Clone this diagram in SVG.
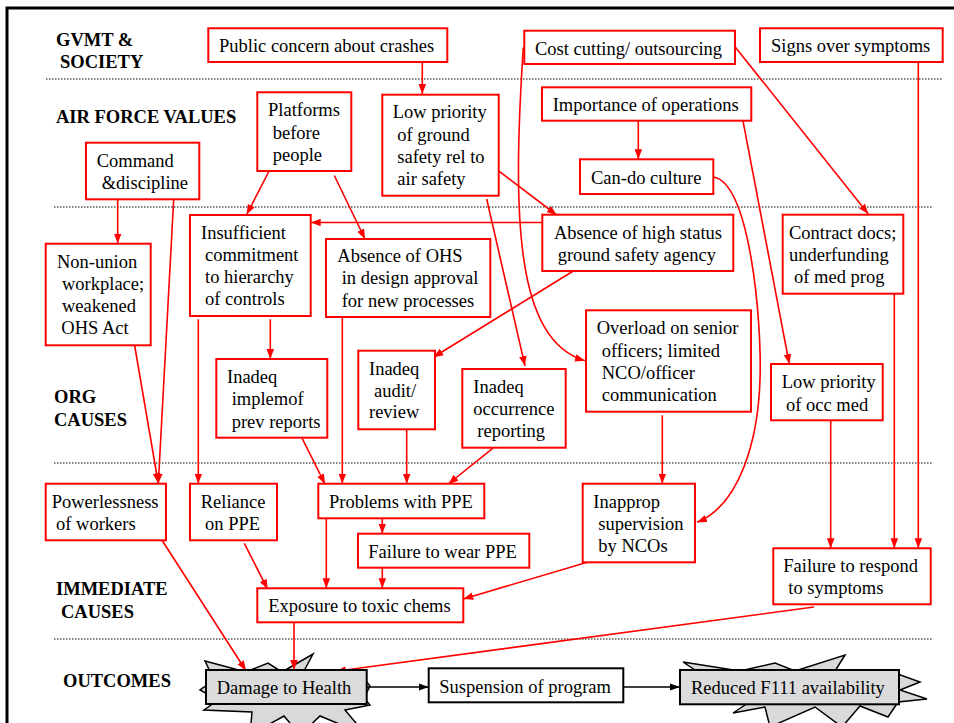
<svg xmlns="http://www.w3.org/2000/svg" width="954" height="723" viewBox="0 0 954 723">
<defs>
<style>
.n{fill:#fff;stroke:#ff0000;stroke-width:2}
.g{fill:#dcdcdc;stroke:#000;stroke-width:2}
.w{fill:#fff;stroke:#000;stroke-width:2}
.star{fill:#d9d9d9;stroke:#000;stroke-width:1.5}
text{font-family:"Liberation Serif","Times New Roman",serif;font-size:18.5px;fill:#000}
.lab{font-weight:bold;font-size:18.5px}
.c{fill:none;stroke:#ff0000;stroke-width:1.6}
.k{fill:none;stroke:#000;stroke-width:1.6}
.sep{stroke:#000;stroke-width:1;stroke-dasharray:1.5 1.5}
</style>
<marker id="ar" viewBox="0 0 10 10" refX="10" refY="5" markerWidth="10" markerHeight="10" markerUnits="userSpaceOnUse" orient="auto"><path d="M0,1.2 L10,5 L0,8.8 z" fill="#ff0000"/></marker>
<marker id="ak" viewBox="0 0 10 10" refX="10" refY="5" markerWidth="10" markerHeight="10" markerUnits="userSpaceOnUse" orient="auto"><path d="M0,1.5 L10,5 L0,8.5 z" fill="#000"/></marker>
</defs>
<rect width="954" height="723" fill="#fff"/>
<path d="M7,723 V8 H954" fill="none" stroke="#000" stroke-width="3"/>

<g id="separators">
<line class="sep" x1="46" y1="79" x2="942" y2="79"/>
<line class="sep" x1="54" y1="207" x2="933" y2="207"/>
<line class="sep" x1="54" y1="463" x2="933" y2="463"/>
<line class="sep" x1="54" y1="639" x2="933" y2="639"/>
</g>

<g id="labels">
<text class="lab" x="56" y="46">GVMT &amp;</text>
<text class="lab" x="60" y="68">SOCIETY</text>
<text class="lab" x="56" y="123">AIR FORCE VALUES</text>
<text class="lab" x="54" y="403">ORG</text>
<text class="lab" x="54" y="426">CAUSES</text>
<text class="lab" x="56" y="595">IMMEDIATE</text>
<text class="lab" x="61" y="618">CAUSES</text>
<text class="lab" x="63" y="687">OUTCOMES</text>
</g>

<g id="starbursts">
<polygon class="star" points="205,661 246,672 268,663 282,672 313,654 304,671 362,676 370,686 364,698 370,705 345,710 366,735 320,716 300,735 284,716 250,735 252,712 204,710 218,700 200,690 214,680"/>
<polygon class="star" points="683,662 740,671 775,663 795,671 845,655 835,671 895,673 920,682 900,690 927,699 898,702 888,717 860,706 842,727 815,707 770,727 765,707 733,713 748,703 690,700 700,690 685,682 698,672"/>
</g>

<g id="connectors">
<line class="c" x1="422.3" y1="62" x2="422.3" y2="94" marker-end="url(#ar)"/>
<line class="c" x1="270.7" y1="168" x2="246.7" y2="214.5" marker-end="url(#ar)"/>
<line class="c" x1="334.3" y1="175.5" x2="365" y2="239" marker-end="url(#ar)"/>
<line class="c" x1="117.7" y1="199.3" x2="117.7" y2="243.5" marker-end="url(#ar)"/>
<line class="c" x1="173.7" y1="199.3" x2="158.3" y2="483.5" marker-end="url(#ar)"/>
<line class="c" x1="134.3" y1="343.5" x2="158.3" y2="483.5" marker-end="url(#ar)"/>
<line class="c" x1="494.3" y1="167.7" x2="556.7" y2="215" marker-end="url(#ar)"/>
<line class="c" x1="542.3" y1="222.5" x2="310.7" y2="222.5" marker-end="url(#ar)"/>
<line class="c" x1="486.7" y1="199" x2="525" y2="366" marker-end="url(#ar)"/>
<path class="c" d="M523.3,47.5 C512,220 516,340 585,360.7" marker-end="url(#ar)"/>
<line class="c" x1="638.3" y1="120.7" x2="638.3" y2="159.3" marker-end="url(#ar)"/>
<line class="c" x1="742.7" y1="119.3" x2="789.3" y2="364" marker-end="url(#ar)"/>
<path class="c" d="M714,177 C750,185 762,320 760,380 C758,440 740,505 697,522.3" marker-end="url(#ar)"/>
<line class="c" x1="735" y1="46.7" x2="868.3" y2="214" marker-end="url(#ar)"/>
<line class="c" x1="918.3" y1="62" x2="918.3" y2="548.3" marker-end="url(#ar)"/>
<line class="c" x1="894.3" y1="293.7" x2="894.3" y2="548.3" marker-end="url(#ar)"/>
<line class="c" x1="830.7" y1="416" x2="830.7" y2="548.3" marker-end="url(#ar)"/>
<line class="c" x1="573.3" y1="271" x2="433.3" y2="357.3" marker-end="url(#ar)"/>
<line class="c" x1="270.3" y1="319.3" x2="270.3" y2="359" marker-end="url(#ar)"/>
<line class="c" x1="198.3" y1="319.3" x2="198.3" y2="483.7" marker-end="url(#ar)"/>
<line class="c" x1="342.3" y1="317" x2="342.3" y2="483.7" marker-end="url(#ar)"/>
<line class="c" x1="302.3" y1="438.7" x2="325" y2="484" marker-end="url(#ar)"/>
<line class="c" x1="406.7" y1="429.3" x2="406.7" y2="483.7" marker-end="url(#ar)"/>
<line class="c" x1="492.7" y1="448.3" x2="448.3" y2="484" marker-end="url(#ar)"/>
<line class="c" x1="662.3" y1="415.3" x2="662.3" y2="483.7" marker-end="url(#ar)"/>
<line class="c" x1="382.3" y1="518.3" x2="382.3" y2="533.7" marker-end="url(#ar)"/>
<line class="c" x1="326.3" y1="518.3" x2="326.3" y2="588.3" marker-end="url(#ar)"/>
<line class="c" x1="382.3" y1="567.7" x2="382.3" y2="588.3" marker-end="url(#ar)"/>
<line class="c" x1="244.3" y1="543.3" x2="267.7" y2="589.3" marker-end="url(#ar)"/>
<line class="c" x1="598.3" y1="559" x2="463.3" y2="599" marker-end="url(#ar)"/>
<line class="c" x1="294" y1="622.3" x2="294" y2="670" marker-end="url(#ar)"/>
<line class="c" x1="159.3" y1="536" x2="246" y2="670.7" marker-end="url(#ar)"/>
<line class="c" x1="814" y1="607" x2="336" y2="671.3" marker-end="url(#ar)"/>
<line class="k" x1="366.7" y1="687" x2="428.7" y2="687" marker-end="url(#ak)"/>
<line class="k" x1="623.3" y1="687" x2="680" y2="687" marker-end="url(#ak)"/>
</g>

<g id="n-public"><rect class="n" x="208.3" y="28.3" width="239" height="33.7"/><text x="219" y="52">Public concern about crashes</text></g>
<g id="n-cost"><rect class="n" x="524.3" y="30.7" width="210.7" height="33.3"/><text x="535" y="55">Cost cutting/ outsourcing</text></g>
<g id="n-signs"><rect class="n" x="760" y="28.3" width="182.7" height="33.7"/><text x="771" y="52">Signs over symptoms</text></g>
<g id="n-platforms"><rect class="n" x="257.3" y="92.3" width="94" height="78.7"/><text x="268" y="116">Platforms</text><text x="272.7" y="138.5">before</text><text x="272.7" y="161">people</text></g>
<g id="n-lowground"><rect class="n" x="382.3" y="94.7" width="116.4" height="101"/><text x="392.7" y="118.3">Low priority</text><text x="397.3" y="140.7">of ground</text><text x="397.3" y="162.7">safety rel to</text><text x="397.3" y="185">air safety</text></g>
<g id="n-importance"><rect class="n" x="542" y="87.3" width="209.3" height="33.4"/><text x="552.7" y="111">Importance of operations</text></g>
<g id="n-cando"><rect class="n" x="580" y="159.3" width="133.3" height="34.7"/><text x="591" y="184">Can-do culture</text></g>
<g id="n-command"><rect class="n" x="86" y="142.7" width="113.3" height="56.6"/><text x="96.7" y="166.7">Command</text><text x="101.7" y="189">&amp;discipline</text></g>
<g id="n-insufficient"><rect class="n" x="190" y="215" width="120.7" height="101"/><text x="201" y="239">Insufficient</text><text x="205" y="261">commitment</text><text x="205" y="283.3">to hierarchy</text><text x="205" y="305.3">of controls</text></g>
<g id="n-absohs"><rect class="n" x="326" y="239" width="164.3" height="78"/><text x="337.3" y="262.3">Absence of OHS</text><text x="341.7" y="284.3">in design approval</text><text x="341.7" y="307.3">for new processes</text></g>
<g id="n-abshigh"><rect class="n" x="542.3" y="214.7" width="191" height="56.3"/><text x="554" y="239">Absence of high status</text><text x="557.7" y="261">ground safety agency</text></g>
<g id="n-contract"><rect class="n" x="782.7" y="214.7" width="120.6" height="79"/><text x="789" y="239">Contract docs;</text><text x="789" y="261">underfunding</text><text x="794" y="283.3">of med prog</text></g>
<g id="n-nonunion"><rect class="n" x="45.7" y="243.7" width="105" height="101.6"/><text x="57" y="267.7">Non-union</text><text x="62" y="290">workplace;</text><text x="62" y="312.3">weakened</text><text x="61.3" y="334.3">OHS Act</text></g>
<g id="n-implem"><rect class="n" x="216.3" y="359" width="111" height="78.7"/><text x="227" y="383.3">Inadeq</text><text x="231.7" y="405">implemof</text><text x="231.7" y="427.7">prev reports</text></g>
<g id="n-audit"><rect class="n" x="358.3" y="350.7" width="76.7" height="78.6"/><text x="369" y="375">Inadeq</text><text x="374" y="396.7">audit/</text><text x="369" y="418.3">review</text></g>
<g id="n-occurrence"><rect class="n" x="462.3" y="369" width="103.4" height="78.7"/><text x="473.3" y="393.3">Inadeq</text><text x="473.3" y="415">occurrence</text><text x="477.3" y="437.3">reporting</text></g>
<g id="n-overload"><rect class="n" x="586" y="310.3" width="165" height="101.4"/><text x="596.7" y="334.3">Overload on senior</text><text x="601.7" y="356.7">officers; limited</text><text x="601.7" y="379">NCO/officer</text><text x="601.7" y="401">communication</text></g>
<g id="n-lowocc"><rect class="n" x="771" y="364" width="111.7" height="56.3"/><text x="781.7" y="388.3">Low priority</text><text x="786" y="410.7">of occ med</text></g>
<g id="n-powerless"><rect class="n" x="45.7" y="483.7" width="120.3" height="56.6"/><text x="51.7" y="507.7">Powerlessness</text><text x="56" y="530">of workers</text></g>
<g id="n-reliance"><rect class="n" x="190" y="483.7" width="87" height="56.6"/><text x="200.7" y="507.7">Reliance</text><text x="205" y="530">on PPE</text></g>
<g id="n-problems"><rect class="n" x="318.3" y="483.7" width="166" height="34.6"/><text x="329" y="508.3">Problems with PPE</text></g>
<g id="n-failwear"><rect class="n" x="358" y="533.7" width="171.3" height="34"/><text x="368.3" y="557.7">Failure to wear PPE</text></g>
<g id="n-inapprop"><rect class="n" x="582.7" y="483.7" width="112.3" height="78.6"/><text x="593.3" y="508.3">Inapprop</text><text x="598.3" y="530">supervision</text><text x="598.3" y="551.7">by NCOs</text></g>
<g id="n-failrespond"><rect class="n" x="773.3" y="548.3" width="157.4" height="56"/><text x="783.3" y="571.7">Failure to respond</text><text x="788.3" y="594.3">to symptoms</text></g>
<g id="n-exposure"><rect class="n" x="257.3" y="588.3" width="206" height="34"/><text x="268.3" y="611.7">Exposure to toxic chems</text></g>
<g id="n-damage"><rect class="g" x="206" y="670" width="160.7" height="34"/><text x="216.7" y="694">Damage to Health</text></g>
<g id="n-suspension"><rect class="w" x="428.7" y="668.3" width="194.6" height="34"/><text x="439.3" y="693">Suspension of program</text></g>
<g id="n-reduced"><rect class="g" x="680" y="670" width="219" height="34.3"/><text x="691" y="694">Reduced F111 availability</text></g>
</svg>
